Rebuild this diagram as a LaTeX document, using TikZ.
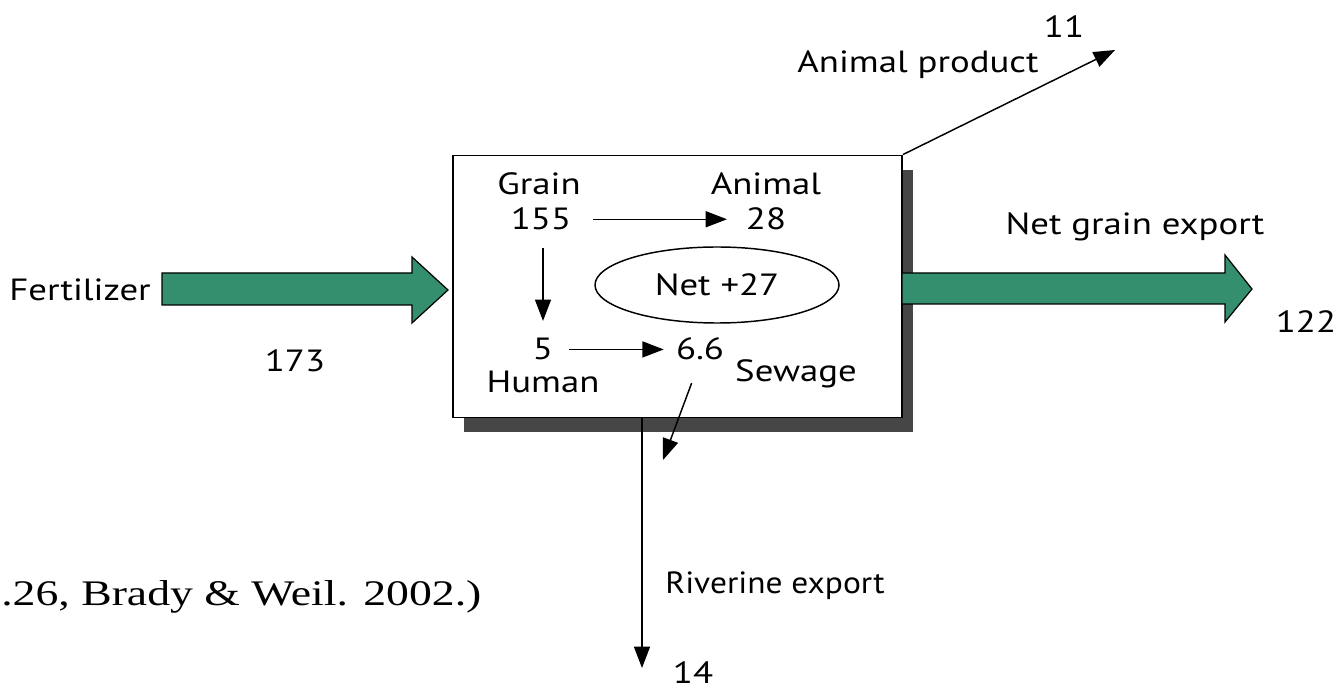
\documentclass[tikz,border=0pt]{standalone}
\usepackage{fontspec}
\setmainfont{PT Sans}
\newfontfamily\citefont{Liberation Serif}
\usetikzlibrary{arrows.meta,shapes.geometric}
\definecolor{flowgreen}{RGB}{52,143,110}
\definecolor{shadowgray}{RGB}{70,70,70}
\newcommand{\wx}[1]{\scalebox{1.2}[1]{#1}}
\tikzset{
  lab/.style={font=\fontsize{23}{26}\selectfont, inner sep=0pt, anchor=base},
  thinarr/.style={line width=1.1pt, -{Triangle[length=16pt,width=12pt]}},
  fatarrow/.style={draw=black, line width=0.9pt, fill=flowgreen, line join=miter},
  boxstyle/.style={draw=black, line width=1.4pt, fill=white, inner sep=0pt, minimum width=336.75pt, minimum height=196.5pt},
  netoval/.style={ellipse, draw=black, line width=1.1pt, inner sep=0pt, minimum width=183pt, minimum height=57pt, font=\fontsize{23}{26}\selectfont}
}
\begin{document}
\begin{tikzpicture}[x=0.75pt,y=-0.75pt]
\useasboundingbox (0,0) rectangle (1336,691);
% shadow and box
\fill[shadowgray] (464,170) rectangle (913,432);
\node[boxstyle] (box) at (677.5,286.5) {};
% fat arrows
\draw[fatarrow] (162,273) -- (412,273) -- (412,257) -- (448,290) -- (412,323) -- (412,305) -- (162,305) -- cycle;
\draw[fatarrow] (902,273) -- (1225,273) -- (1225,255) -- (1252,289) -- (1225,322) -- (1225,304) -- (902,304) -- cycle;
% outside labels
\node[lab] (fert) at (80,301) {\wx{Fertilizer}};
\node[lab] (v173) at (295,372) {\wx{173}};
\node[lab] (nge) at (1135,235) {\wx{Net grain export}};
\node[lab] (v122) at (1306,333) {\wx{122}};
\node[lab] (ap) at (918,73) {\wx{Animal product}};
\node[lab] (v11) at (1064,38) {\wx{11}};
\node[lab] (riv) at (775,593) {\scalebox{1.09}[1]{Riverine export}};
\node[lab] (v14) at (693,683) {\wx{14}};
% inside labels
\node[lab] (grain) at (539,195) {\wx{Grain}};
\node[lab] (n155) at (541,230) {\wx{155}};
\node[lab] (animal) at (766,195) {\wx{Animal}};
\node[lab] (n28) at (766,230) {\wx{28}};
\node[netoval] (net) at (717,285) {\wx{Net\ +27}};
\node[lab] (n5) at (543,360) {\wx{5}};
\node[lab] (n66) at (700,360) {\wx{6.6}};
\node[lab] (human) at (543,393) {\wx{Human}};
\node[lab] (sewage) at (796,382) {\wx{Sewage}};
% citation
\node[inner sep=0pt, anchor=base west, font=\citefont\fontsize{27}{30}\selectfont] (cite) at (1,605) {\scalebox{1.27}[1]{.26, Brady \& Weil. 2002.)}};
% thin connectors
\coordinate (aptip) at (1115,50);
\coordinate (sewtip) at (663,460);
\coordinate (rivtip) at (642,668);
\draw[thinarr, shorten <=16pt, shorten >=14pt] (n155.east) -- (n155.east -| n28.west);
\draw[thinarr, shorten <=13pt, shorten >=13pt] (n155.south -| n5.north) -- (n5.north);
\draw[thinarr, shorten <=12pt, shorten >=9pt] (n5.east) -- (n5.east -| n66.west);
\draw[thinarr, shorten <=18pt] (n66.south) -- (sewtip);
\draw[thinarr] (box.north east) -- (aptip);
\draw[thinarr] (rivtip |- box.south) -- (rivtip);
\end{tikzpicture}
\end{document}
